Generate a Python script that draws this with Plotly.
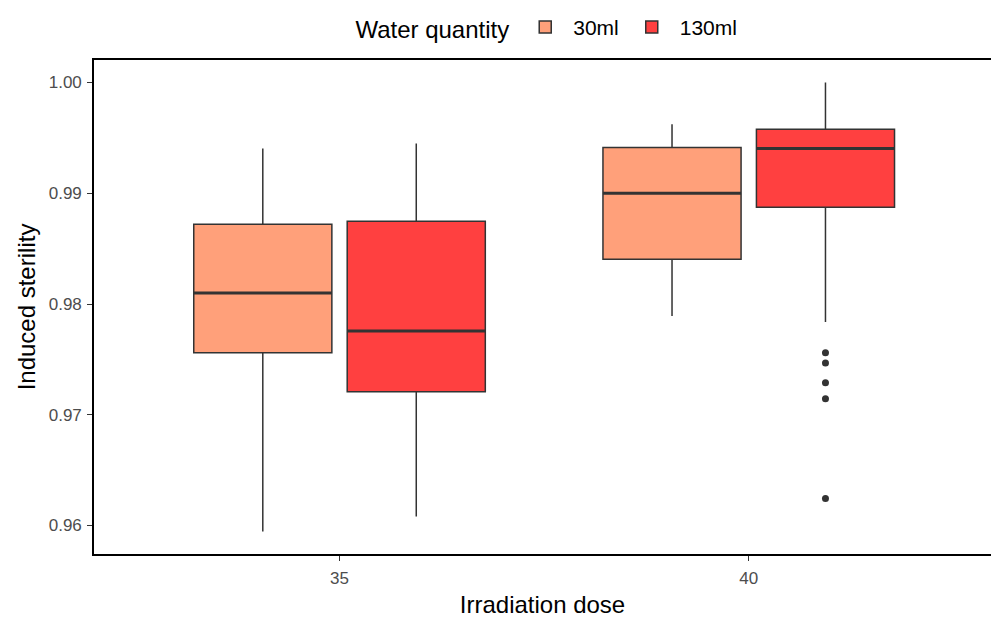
import plotly.graph_objects as go

doses = ["35", "40"]
groups = ["30ml", "130ml"]
colors = ["#FFA07A", "#FF4040"]

# precomputed box statistics per group, per dose
lower = {"30ml": [0.95946, 0.97892], "130ml": [0.96081, 0.97838]}
q1 = {"30ml": [0.97559, 0.98405], "130ml": [0.97207, 0.98874]}
median = {"30ml": [0.98099, 0.99000], "130ml": [0.97757, 0.99405]}
q3 = {"30ml": [0.98721, 0.99414], "130ml": [0.98748, 0.99577]}
upper = {"30ml": [0.99405, 0.99622], "130ml": [0.99450, 1.00000]}
outlier_dose = {"30ml": ["35", "40"], "130ml": ["40", "40", "40", "40", "40"]}
outlier_val = {"30ml": [None, None], "130ml": [0.97559, 0.97468, 0.97288, 0.97144, 0.96243]}

y_ticks = [0.96, 0.97, 0.98, 0.99, 1.00]
y_ticktext = ["0.96", "0.97", "0.98", "0.99", "1.00"]

fig = go.Figure()
for g, c in zip(groups, colors):
    fig.add_trace(go.Box(
        name=g,
        x=doses,
        q1=q1[g], median=median[g], q3=q3[g],
        lowerfence=lower[g], upperfence=upper[g],
        boxpoints=False,
        fillcolor=c,
        line=dict(color="#333333", width=1.5),
        whiskerwidth=0,
        offsetgroup=g,
        legendgroup=g,
        hoverinfo="y",
    ))
# thicker median lines (box collapsed onto the median value)
for g in groups:
    fig.add_trace(go.Box(
        name=g + " median",
        x=doses,
        q1=median[g], median=median[g], q3=median[g],
        lowerfence=median[g], upperfence=median[g],
        boxpoints=False,
        fillcolor="rgba(0,0,0,0)",
        line=dict(color="#333333", width=3),
        whiskerwidth=0,
        offsetgroup=g,
        legendgroup=g,
        showlegend=False,
        hoverinfo="skip",
    ))
for g in groups:
    fig.add_trace(go.Scatter(
        name=g + " outliers",
        x=outlier_dose[g], y=outlier_val[g],
        mode="markers",
        marker=dict(color="#333333", size=7),
        offsetgroup=g,
        legendgroup=g,
        showlegend=False,
        hoverinfo="y",
    ))

font_family = "Liberation Sans, Arial, sans-serif"
fig.update_layout(
    width=991, height=618,
    margin=dict(l=94, r=0, t=60, b=64),
    plot_bgcolor="white", paper_bgcolor="white",
    boxmode="group", boxgap=0.25, boxgroupgap=0.1,
    scattermode="group", scattergap=0.25,
    font=dict(family=font_family, color="#000000"),
    legend=dict(
        orientation="h", x=0.506, xanchor="center", y=1.065, yanchor="middle",
        bgcolor="rgba(0,0,0,0)",
        title=dict(text="Water quantity", font=dict(size=24, color="#000000")),
        font=dict(size=21, color="#000000"),
        itemwidth=46,
    ),
    xaxis=dict(
        type="category", range=[-0.6, 1.592],
        title=dict(text="Irradiation dose", font=dict(size=24), standoff=10),
        tickfont=dict(size=17, color="#4D4D4D"),
        ticks="outside", ticklen=5, tickcolor="#333333", tickwidth=1,
        ticklabelstandoff=3,
        showline=True, linecolor="#000000", linewidth=1.6, mirror=True,
        showgrid=False, zeroline=False,
    ),
    yaxis=dict(
        range=[0.95743, 1.00203],
        tickvals=y_ticks, ticktext=y_ticktext,
        title=dict(text="Induced sterility", font=dict(size=24), standoff=6),
        tickfont=dict(size=17, color="#4D4D4D"),
        ticks="outside", ticklen=5, tickcolor="#333333", tickwidth=1,
        ticklabelstandoff=2,
        showline=True, linecolor="#000000", linewidth=1.6,
        showgrid=False, zeroline=False,
    ),
)

fig.write_html("out.html")
